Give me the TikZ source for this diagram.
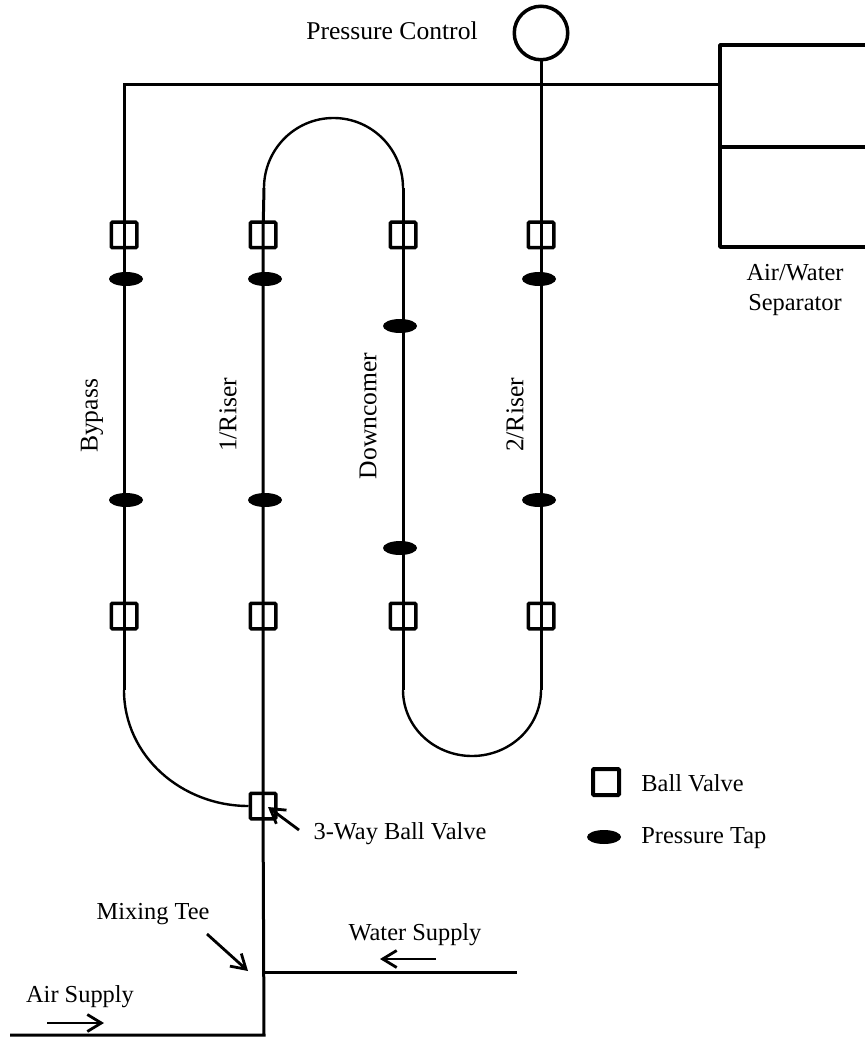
\documentclass[tikz,border=0pt]{standalone}
\usepackage{fontspec}
\setmainfont{Liberation Serif}
\usetikzlibrary{arrows.meta,shapes.geometric}
\tikzset{
  vbox/.style={draw=black,rectangle,rounded corners=0.5pt,minimum width=12.75pt,minimum height=12.75pt,
               inner sep=0pt,line width=1.75pt},
  tapn/.style={fill=black,ellipse,minimum width=17pt,minimum height=7pt,inner sep=0pt},
  lbl/.style={font=\fontsize{12.2}{15}\selectfont,inner sep=0pt},
  lblb/.style={font=\fontsize{12.8}{15}\selectfont,inner sep=0pt},
  pipe/.style={black,line width=1.5pt},
  pipecurve/.style={black,line width=1.2pt},
  sepl/.style={black,line width=1.85pt,line join=round},
  arr/.style={-{Straight Barb[length=7pt,width=8.5pt]},black,line width=1.4pt},
}
\begin{document}
\begin{tikzpicture}[x=0.5pt,y=0.5pt]
    \useasboundingbox (0,0) rectangle (865,-1037);

    % Draw valves
    \node[vbox] (bypup) at (124,-235) {};
    \node[vbox] (r1up) at (263,-235) {};
    \node[vbox] (dcup) at (403,-235) {};
    \node[vbox] (r2up) at (541,-235) {};
    \node[vbox] (byplo) at (124,-616) {};
    \node[vbox] (r1lo) at (263,-616) {};
    \node[vbox] (dclo) at (403,-616) {};
    \node[vbox] (r2lo) at (541,-616) {};
    \node[vbox] (way) at (263,-806) {};

    % Draw taps
    \node[tapn] (tap1) at (126,-279) {};
    \node[tapn] (tap2) at (265,-279) {};
    \node[tapn] (tap3) at (539,-279) {};
    \node[tapn] (tap4) at (126,-500) {};
    \node[tapn] (tap5) at (265,-500) {};
    \node[tapn] (tap6) at (539,-500) {};
    \node[tapn] (tap7) at (400,-326) {};
    \node[tapn] (tap8) at (400,-548) {};

    % Pressure control
    \node[draw=black,circle,minimum size=26.75pt,inner sep=0pt,line width=1.75pt] (pc) at (541,-33) {};
    \node[lblb] (pclbl) at (392,-31) {Pressure Control};

    % Separator
    \coordinate (sepa) at (865,-45);
    \coordinate (sepb) at (720,-45);
    \coordinate (sepc) at (720,-247);
    \coordinate (sepd) at (865,-247);
    \coordinate (sepe) at (720,-147);
    \coordinate (sepf) at (865,-147);
    \coordinate (sepin) at (720,-85);
    \draw[sepl] (sepa) -- (sepb) -- (sepc) -- (sepd);
    \draw[sepl] (sepe) -- (sepf);
    \node[lbl] (seplbl1) at (795,-273) {Air/Water};
    \node[lbl] (seplbl2) at (795,-305) {Separator};

    % Pipe corners and bends
    \coordinate (topc) at (124,-85);
    \coordinate (bypb) at (124,-690);
    \coordinate (r1b) at (264,-188);
    \coordinate (dcb) at (403,-188);
    \coordinate (ubt) at (333.5,-118);
    \coordinate (dcc) at (403,-690);
    \coordinate (r2c) at (541,-690);
    \coordinate (ubb) at (472,-756);
    \coordinate (tee) at (264,-972);
    \coordinate (wend) at (517,-972);
    \coordinate (acor) at (264,-1035);
    \coordinate (aend) at (10,-1035);

    % Draw pipes
    \draw[pipe] (sepin) -- (topc) -- (bypup.center) -- (byplo.center) -- (bypb);
    \draw[pipecurve] (bypb) to[out=-90,in=180] (way.west);
    \draw[pipe] (pc.south) -- (r2up.center) -- (r2lo.center) -- (r2c);
    \draw[pipe] (r1b) -- (r1up.center) -- (r1lo.center) -- (way.center) -- (acor) -- (aend);
    \draw[pipecurve] (r1b) to[out=90,in=180] (ubt) to[out=0,in=90] (dcb);
    \draw[pipe] (dcb) -- (dcup.center) -- (dclo.center) -- (dcc);
    \draw[pipecurve] (dcc) to[out=-90,in=180] (ubb) to[out=0,in=-90] (r2c);
    \draw[pipe] (tee) -- (wend);

    % Line labels
    \node[lblb,rotate=90] (byplbl) at (92,-416) {Bypass};
    \node[lblb,rotate=90] (r1lbl) at (228,-415) {1/Riser};
    \node[lblb,rotate=90] (dclbl) at (368,-416) {Downcomer};
    \node[lblb,rotate=90] (r2lbl) at (515,-415) {2/Riser};

    % Callouts
    \node[lbl] (waylbl) at (400,-834) {3-Way Ball Valve};
    \coordinate (waya) at (299,-830);
    \coordinate (wayb) at (268,-807);
    \draw[arr] (waya) -- (wayb);
    \node[lbl] (teelbl) at (153,-914) {Mixing Tee};
    \coordinate (teea) at (207,-934);
    \coordinate (teeb) at (248,-971);
    \draw[arr] (teea) -- (teeb);
    \node[lbl] (watlbl) at (415,-935) {Water Supply};
    \coordinate (wata) at (436,-959);
    \coordinate (watb) at (380,-959);
    \draw[arr] (wata) -- (watb);
    \node[lbl] (airlbl) at (80,-997) {Air Supply};
    \coordinate (aira) at (47,-1023);
    \coordinate (airb) at (104,-1023);
    \draw[arr] (aira) -- (airb);

    % Legend
    \node[vbox,minimum width=13pt,minimum height=13pt,line width=2pt] (legv) at (606,-782) {};
    \node[lbl,anchor=west] (legvt) at (641,-783) {Ball Valve};
    \node[tapn] (legt) at (604,-837) {};
    \node[lbl,anchor=west] (legtt) at (641,-838) {Pressure Tap};
\end{tikzpicture}
\end{document}
